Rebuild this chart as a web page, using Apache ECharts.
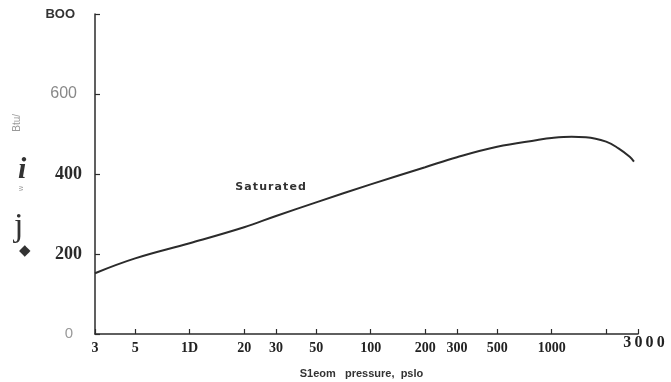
<!DOCTYPE html>
<html style="height: 100%">

<head>
    <meta charset="utf-8">
</head>

<body style="height: 100%; margin: 0; background: #fff">
    <div id="container" style="height: 100%"></div>

    <script type="text/javascript" src="https://cdn.jsdelivr.net/npm/echarts@6.0.0/dist/echarts.min.js"></script>

    <script type="text/javascript">

        // steam pressure (psia) and value
        var pressure = [3, 5, 10, 20, 30, 50, 100, 200, 300, 500, 835, 1000, 1290, 1545, 2000, 2340, 2700, 2850];
        var enthalpy = [152, 189, 227, 267, 295, 329, 374, 417, 442, 468, 485, 490, 493, 492, 481, 464, 443, 431];

        var xTicks = [3, 5, 10, 20, 30, 50, 100, 200, 300, 500, 1000, 2000, 3000];
        var xLabels = [3, 5, 10, 20, 30, 50, 100, 200, 300, 500, 1000, 3000];

        var ink = '#2b2b2b';

        var dom = document.getElementById("container");
        var myChart = echarts.init(dom);

        var points = pressure.map(function (p, i) { return [p, enthalpy[i]]; });

        var option = {
            backgroundColor: '#fff',
            animation: false,
            grid: { left: 95, right: 33, top: 14, bottom: 48, containLabel: false, outerBoundsMode: 'none' },
            xAxis: {
                type: 'log',
                logBase: 10,
                min: 3,
                max: 3000,
                name: 'S1eom   pressure,  pslo',
                nameLocation: 'middle',
                nameGap: 34,
                nameTextStyle: {
                    fontFamily: 'Liberation Sans', fontWeight: 'bold', fontSize: 11, color: '#333',
                    padding: [0, 10, 0, 0]
                },
                axisLine: { lineStyle: { color: ink, width: 1.5 } },
                axisTick: { inside: true, length: 5, customValues: xTicks, lineStyle: { color: ink, width: 1.2 } },
                axisLabel: {
                    customValues: xLabels,
                    margin: 7,
                    fontFamily: 'Liberation Serif',
                    fontWeight: 'bold',
                    fontSize: 14,
                    color: '#222',
                    formatter: function (v) {
                        if (v === 10) return '1D';
                        if (v === 3000) return '{r|3\u20090\u20090\u20090}';
                        return String(v);
                    },
                    rich: {
                        r: { fontFamily: 'Liberation Serif', fontWeight: 'bold', fontSize: 16, color: '#222',
                             lineHeight: 4, padding: [0, 0, 0, 12] }
                    }
                },
                splitLine: { show: false }
            },
            yAxis: {
                type: 'value',
                min: 0,
                max: 800,
                interval: 200,
                axisLine: { show: true, lineStyle: { color: ink, width: 1.5 } },
                axisTick: { show: true, inside: true, length: 5, lineStyle: { color: ink, width: 1.2 } },
                axisLabel: {
                    margin: 13,
                    formatter: function (v) {
                        if (v === 800) return '{a|BOO}';
                        if (v === 600) return '{b|600}';
                        if (v === 400) return '{c|400}';
                        if (v === 200) return '{c|200}';
                        return '{d|0}';
                    },
                    rich: {
                        a: { fontFamily: 'Liberation Sans', fontWeight: 'bold', fontSize: 13, color: '#333', padding: [0, 7, 0, 0] },
                        b: { fontFamily: 'Liberation Sans', fontSize: 16, color: '#888', padding: [0, 5, 0, 0] },
                        c: { fontFamily: 'Liberation Serif', fontWeight: 'bold', fontSize: 18, color: '#2a2a2a' },
                        d: { fontFamily: 'Liberation Sans', fontSize: 15, color: '#999', padding: [0, 9, 0, 0] }
                    }
                },
                splitLine: { show: false }
            },
            series: [
                {
                    type: 'line',
                    data: points,
                    smooth: 0.4,
                    showSymbol: false,
                    lineStyle: { color: ink, width: 2 },
                    markPoint: {
                        symbol: 'circle',
                        symbolSize: 0,
                        label: {
                            show: true,
                            position: 'inside',
                            formatter: 'S\u200aa\u200at\u200au\u200ar\u200aa\u200at\u200ae\u200ad',
                            fontFamily: 'DejaVu Sans',
                            fontWeight: 'bold',
                            fontSize: 11,
                            color: '#333'
                        },
                        data: [{ coord: [28, 367] }]
                    }
                }
            ],
            graphic: [
                { type: 'text', left: 12, top: 114, rotation: Math.PI / 2,
                  style: { text: 'Btu/', font: '10px "Liberation Sans"', fill: '#999' } },
                { type: 'text', left: 18, top: 155,
                  style: { text: 'i', font: 'italic bold 30px "Liberation Serif"', fill: '#333' } },
                { type: 'text', left: 18, top: 186, rotation: Math.PI / 2,
                  style: { text: 'w', font: '7px "Liberation Sans"', fill: '#999' } },
                { type: 'text', left: 14, top: 210,
                  style: { text: 'j', font: '34px "Liberation Serif"', fill: '#333' } },
                { type: 'text', left: 19, top: 244,
                  style: { text: '◆', font: '15px "DejaVu Sans"', fill: '#333' } }
            ]
        };

        myChart.setOption(option);

    </script>
</body>

</html>
